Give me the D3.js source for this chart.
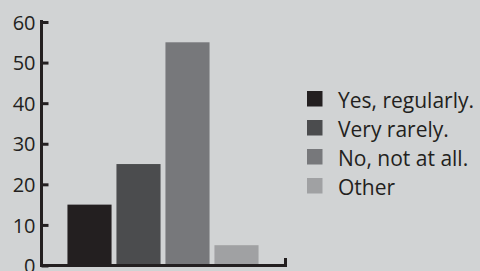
<!DOCTYPE html>
<html>
<head>
<meta charset="utf-8">
<script src="https://cdn.jsdelivr.net/npm/d3@7"></script>
<style>
  html, body { margin: 0; padding: 0; background: #d1d3d4; }
  svg { display: block; }
</style>
</head>
<body>
<svg id="chart"></svg>
<script>
// chart data
const categories = ['Yes, regularly.', 'Very rarely.', 'No, not at all.', 'Other'];
const values = [15, 25, 55, 5];
const colors = ['#231f20', '#4b4c4e', '#77787b', '#a0a1a3'];
const yTicks = [0, 10, 20, 30, 40, 50, 60];

const width = 480, height = 271;
const ink = '#231f20';
const font = '"Open Sans", sans-serif';

const svg = d3.select('#chart')
  .attr('width', width)
  .attr('height', height);

const x = d3.scaleBand()
  .domain(categories)
  .range([41, 285])
  .paddingInner(0.1)
  .paddingOuter(0.54);

const y = d3.scaleLinear()
  .domain([0, 60])
  .range([265.5, 22]);

// bars
svg.selectAll('rect.bar')
  .data(values)
  .enter().append('rect')
    .attr('class', 'bar')
    .attr('x', (d, i) => x(categories[i]))
    .attr('width', x.bandwidth())
    .attr('y', d => y(d))
    .attr('height', d => y(0) - y(d))
    .attr('fill', (d, i) => colors[i]);

// y axis, ticks point inward
const yAxis = svg.append('g')
  .attr('transform', 'translate(41.5,0)')
  .call(d3.axisRight(y).tickValues(yTicks).tickSize(7).tickFormat(d3.format('d')));

yAxis.select('.domain').remove();
yAxis.selectAll('.tick line')
  .attr('stroke', ink)
  .attr('stroke-width', 3);
yAxis.selectAll('.tick text')
  .attr('x', -6)
  .attr('dy', '0.36em')
  .attr('text-anchor', 'end')
  .attr('fill', ink)
  .style('font-family', font)
  .style('font-size', '20px')
  .style('font-weight', 500);

yAxis.append('line')
  .attr('x1', 0).attr('x2', 0)
  .attr('y1', 20).attr('y2', y(0) + 1.5)
  .attr('stroke', ink)
  .attr('stroke-width', 3);

// x axis line with end tick
svg.append('path')
  .attr('d', `M40,${y(0)}H285.5V258`)
  .attr('fill', 'none')
  .attr('stroke', ink)
  .attr('stroke-width', 3);

// legend
const legend = svg.append('g')
  .attr('transform', 'translate(307,91)');

const item = legend.selectAll('g')
  .data(categories)
  .enter().append('g')
    .attr('transform', (d, i) => `translate(0,${i * 29})`);

item.append('rect')
  .attr('width', 15.5)
  .attr('height', 15.5)
  .attr('fill', (d, i) => colors[i]);

item.append('text')
  .attr('x', 31)
  .attr('y', 16.5)
  .attr('fill', ink)
  .style('font-family', font)
  .style('font-size', '21px')
  .style('font-weight', 500)
  .text(d => d);
</script>
</body>
</html>
